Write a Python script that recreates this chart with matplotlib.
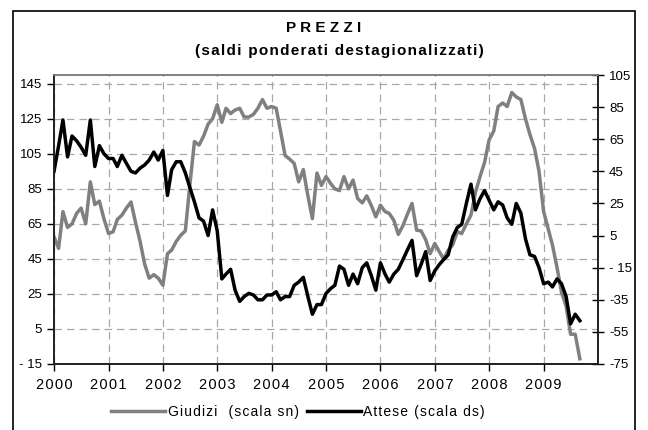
import numpy as np
import pandas as pd
import matplotlib
matplotlib.use("Agg")
import matplotlib.pyplot as plt
from matplotlib.patches import Rectangle

plt.rcParams['font.family'] = ['Liberation Sans', 'DejaVu Sans']

# saldi mensili, gen 2000 - set 2009
giudizi = [57.6, 51, 72, 63, 65, 71, 74, 65, 89, 76, 78, 68,
           59.5, 60.5, 67.5, 70, 74, 77.5, 66, 55, 42, 34, 36, 34,
           30, 48, 50, 55, 58.5, 61, 87, 112, 110, 115, 122, 125,
           133, 123, 131, 128, 130, 131, 126, 126, 127.5, 131, 136, 131,
           132, 131, 118, 104, 102, 99.5, 89, 96, 81, 68, 94, 87,
           92, 88, 85, 84, 92, 85, 90, 79.5, 77, 81, 75.5, 69,
           75.7, 72, 71, 67, 59, 64, 70.5, 76.7, 61.4, 61, 56, 48,
           53.8, 49, 45, 50, 53, 60.5, 59.5, 65, 70, 83, 92, 100,
           113, 118, 132, 134, 132, 140, 137.5, 136, 125, 116, 108, 95,
           72, 62, 53, 40, 26, 18, 2, 2, -12]
attese = [45, 61, 77, 54, 67, 64, 60, 55, 77, 48, 61, 56,
          53, 53, 48, 55, 50, 45, 44, 47, 49, 52, 57, 52,
          58, 30, 46, 51, 51, 44, 35, 26, 16, 14, 5, 21,
          8, -22, -19, -16, -29, -36, -33, -31, -32, -35, -35, -32,
          -32, -30, -35, -33, -33, -26, -24, -21, -33, -44, -38, -38,
          -31, -28, -26, -14, -16, -26, -19, -25, -15, -12, -20, -29,
          -12, -19, -24, -19, -16, -10, -4, 2, -20, -13, -5, -23,
          -17, -13, -10, -7, 4, 10, 12, 25, 37, 21, 28, 33,
          27, 21, 26, 24, 16, 12, 25, 19, 3, -7, -8, -15,
          -25, -24, -27, -22, -25, -33, -50, -44, -48]
mesi = pd.date_range('2000-01-01', periods=len(giudizi), freq='MS')

left_ticks = [-15, 5, 25, 45, 65, 85, 105, 125, 145]
left_labels = ['- 15', '5', '25', '45', '65', '85', '105', '125', '145']
right_ticks = [-75, -55, -35, -15, 5, 25, 45, 65, 85, 105]
right_labels = ['-75', '-55', '-35', '- 15', '5', '25', '45', '65', '85', '105']
anni = [str(a) for a in range(2000, 2010)]
nomi = ['Giudizi  (scala sn)', 'Attese (scala ds)']

HS = '\u200a'


def spaziato(s):
    # allarga un po' le lettere come nel grafico excel
    return HS.join(s)


fig = plt.figure(figsize=(6.48, 4.30), dpi=100)
W, H = 648, 430
ax = fig.add_axes([54 / W, 1 - 364 / H, (598 - 54) / W, (364 - 75) / H])
ax2 = ax.twinx()

l1, = ax.plot(mesi, giudizi, color='#808080', lw=2.5, solid_joinstyle='round')
l2, = ax2.plot(mesi, attese, color='black', lw=2.5, solid_joinstyle='round')

ax.set_xlim(pd.Timestamp('2000-01-01'), pd.Timestamp('2010-01-01'))
ax.set_ylim(-15, 150)
ax2.set_ylim(-75, 105)

ax.set_yticks(left_ticks)
ax.set_yticklabels(left_labels, fontsize=9.5)
ax2.set_yticks(right_ticks)
ax2.set_yticklabels(right_labels, fontsize=9.5)
ax.set_xticks([pd.Timestamp(f'{a}-01-01') for a in anni])
ax.set_xticklabels([spaziato(a) for a in anni], fontsize=10.5)

ax.grid(True, color='#a8a8a8', ls=(0, (6, 4)), lw=0.9)
ax.set_axisbelow(True)

ax.tick_params(axis='x', direction='out', length=5, width=1, pad=5)
ax.tick_params(axis='y', direction='out', length=5, width=1, pad=3.5)
ax2.tick_params(axis='y', direction='inout', length=8, width=1, pad=4)
for a in (ax, ax2):
    for s in ('left', 'bottom', 'right'):
        a.spines[s].set_color('#202020')
        a.spines[s].set_linewidth(1.2)
    a.spines['top'].set_color('#808080')
    a.spines['top'].set_linewidth(1.2)

fig.text(324 / W, 1 - 28 / H, 'P R E Z Z I', ha='center', va='center',
         fontsize=11, fontweight='bold')
fig.text(339 / W, 1 - 51 / H, spaziato('(saldi ponderati destagionalizzati)'),
         ha='center', va='center', fontsize=11, fontweight='bold')

fig.legend([l1, l2], [spaziato(n) for n in nomi],
           loc='center', bbox_to_anchor=(298 / W, 1 - 412 / H), ncol=2,
           frameon=False, fontsize=10, handlelength=3.9, handletextpad=0.15,
           columnspacing=0.6)

fig.patches.append(Rectangle((13 / W, -0.02), (635 - 13) / W, 1 - 11 / H + 0.02,
                             transform=fig.transFigure, fill=False,
                             edgecolor='black', lw=1.2))

fig.savefig('out.png', dpi=100)
